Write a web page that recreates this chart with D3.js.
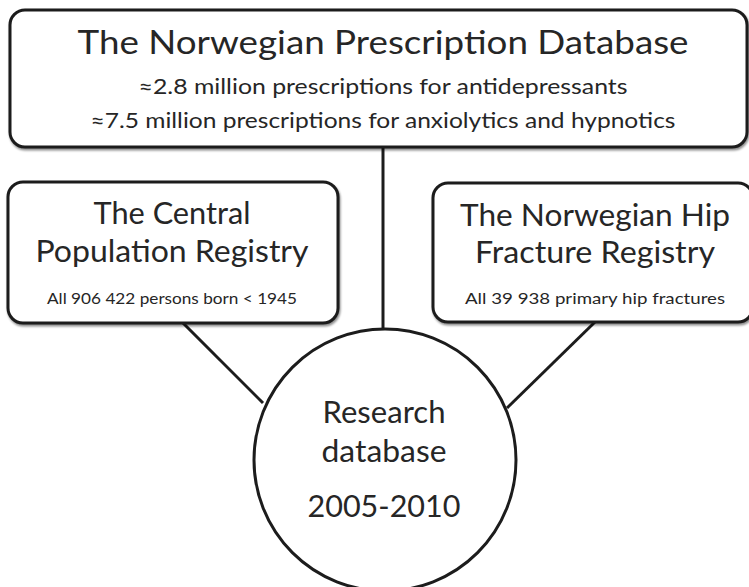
<!DOCTYPE html>
<html>
<head>
<meta charset="utf-8">
<script src="https://cdn.jsdelivr.net/npm/d3@7"></script>
<style>
  body { margin: 0; background: #fff; }
  svg text { font-family: Lato, "Open Sans", sans-serif; fill: #262626; }
</style>
</head>
<body>
<svg id="graphic" width="749" height="587"></svg>
<script>
// texts of the diagram
let topLines = ["The Norwegian Prescription Database",
    "\u22482.8 million prescriptions for antidepressants",
    "\u22487.5 million prescriptions for anxiolytics and hypnotics"];
let leftLines = ["The Central", "Population Registry", "All 906 422 persons born < 1945"];
let rightLines = ["The Norwegian Hip", "Fracture Registry", "All 39 938 primary hip fractures"];
let circleLines = ["Research", "database", "2005-2010"];

// layout (pixels)
let boxes = [
    { lines: topLines, x: 10, y: 10, w: 737, h: 137,
      text: [{ y: 54, size: 32, len: 611 }, { y: 94, size: 21, len: 489 }, { y: 128, size: 21, len: 585 }] },
    { lines: leftLines, x: 8, y: 182, w: 330, h: 141,
      text: [{ y: 224, size: 30, len: 157 }, { y: 262, size: 30, len: 273 }, { y: 304, size: 15, len: 250 }] },
    { lines: rightLines, x: 433, y: 183, w: 320, h: 139,
      text: [{ y: 226, size: 30, len: 270 }, { y: 263, size: 30, len: 240 }, { y: 304, size: 15, len: 260 }] }
];
let centre = { cx: 385, cy: 460, r: 131 };
let circleText = [{ y: 423, size: 30, len: 123 }, { y: 462, size: 30, len: 125 }, { y: 517, size: 30, len: 153 }];
let links = [
    { x1: 383, y1: 147, x2: 383, y2: 330 },
    { x1: 183, y1: 323, x2: 263, y2: 403 },
    { x1: 595, y1: 322, x2: 507, y2: 408 }
];

let svg = d3.select('#graphic');

let defs = svg.append('defs');
let f = defs.append('filter').attr('id', 'shadow')
    .attr('x', '-5%').attr('y', '-5%').attr('width', '115%').attr('height', '120%');
f.append('feDropShadow')
    .attr('dx', 1).attr('dy', 2).attr('stdDeviation', 1.2)
    .attr('flood-color', '#000').attr('flood-opacity', 0.45);

// connectors
svg.selectAll('.link')
    .data(links)
    .enter()
    .append('line')
    .classed('link', true)
    .attr('x1', d => d.x1).attr('y1', d => d.y1)
    .attr('x2', d => d.x2).attr('y2', d => d.y2)
    .attr('stroke', '#1c1c1c')
    .attr('stroke-width', 3);

// boxes
let g = svg.selectAll('.box')
    .data(boxes)
    .enter()
    .append('g')
    .classed('box', true);

g.append('rect')
    .attr('x', d => d.x).attr('y', d => d.y)
    .attr('width', d => d.w).attr('height', d => d.h)
    .attr('rx', 15).attr('ry', 15)
    .attr('fill', '#fff')
    .attr('stroke', '#1c1c1c')
    .attr('stroke-width', 3)
    .attr('filter', 'url(#shadow)');

g.each(function(d) {
    let cx = d.x + d.w / 2;
    if (d.lines === rightLines) cx = 595;
    if (d.lines === leftLines) cx = 172;
    if (d.lines === topLines) cx = 383;
    d3.select(this).selectAll('text')
        .data(d.lines.map((t, i) => ({ t: t, p: d.text[i] })))
        .enter()
        .append('text')
        .attr('x', cx)
        .attr('y', e => e.p.y)
        .attr('text-anchor', 'middle')
        .attr('font-size', e => e.p.size)
        .attr('textLength', e => e.p.len)
        .attr('lengthAdjust', 'spacingAndGlyphs')
        .text(e => e.t);
});

// central circle
svg.append('circle')
    .attr('cx', centre.cx).attr('cy', centre.cy).attr('r', centre.r)
    .attr('fill', '#fff')
    .attr('stroke', '#1c1c1c')
    .attr('stroke-width', 3);

svg.selectAll('.ctext')
    .data(circleLines)
    .enter()
    .append('text')
    .classed('ctext', true)
    .attr('x', 384)
    .attr('y', (d, i) => circleText[i].y)
    .attr('text-anchor', 'middle')
    .attr('font-size', (d, i) => circleText[i].size)
    .attr('textLength', (d, i) => circleText[i].len)
    .attr('lengthAdjust', 'spacingAndGlyphs')
    .text(d => d);
</script>
</body>
</html>
